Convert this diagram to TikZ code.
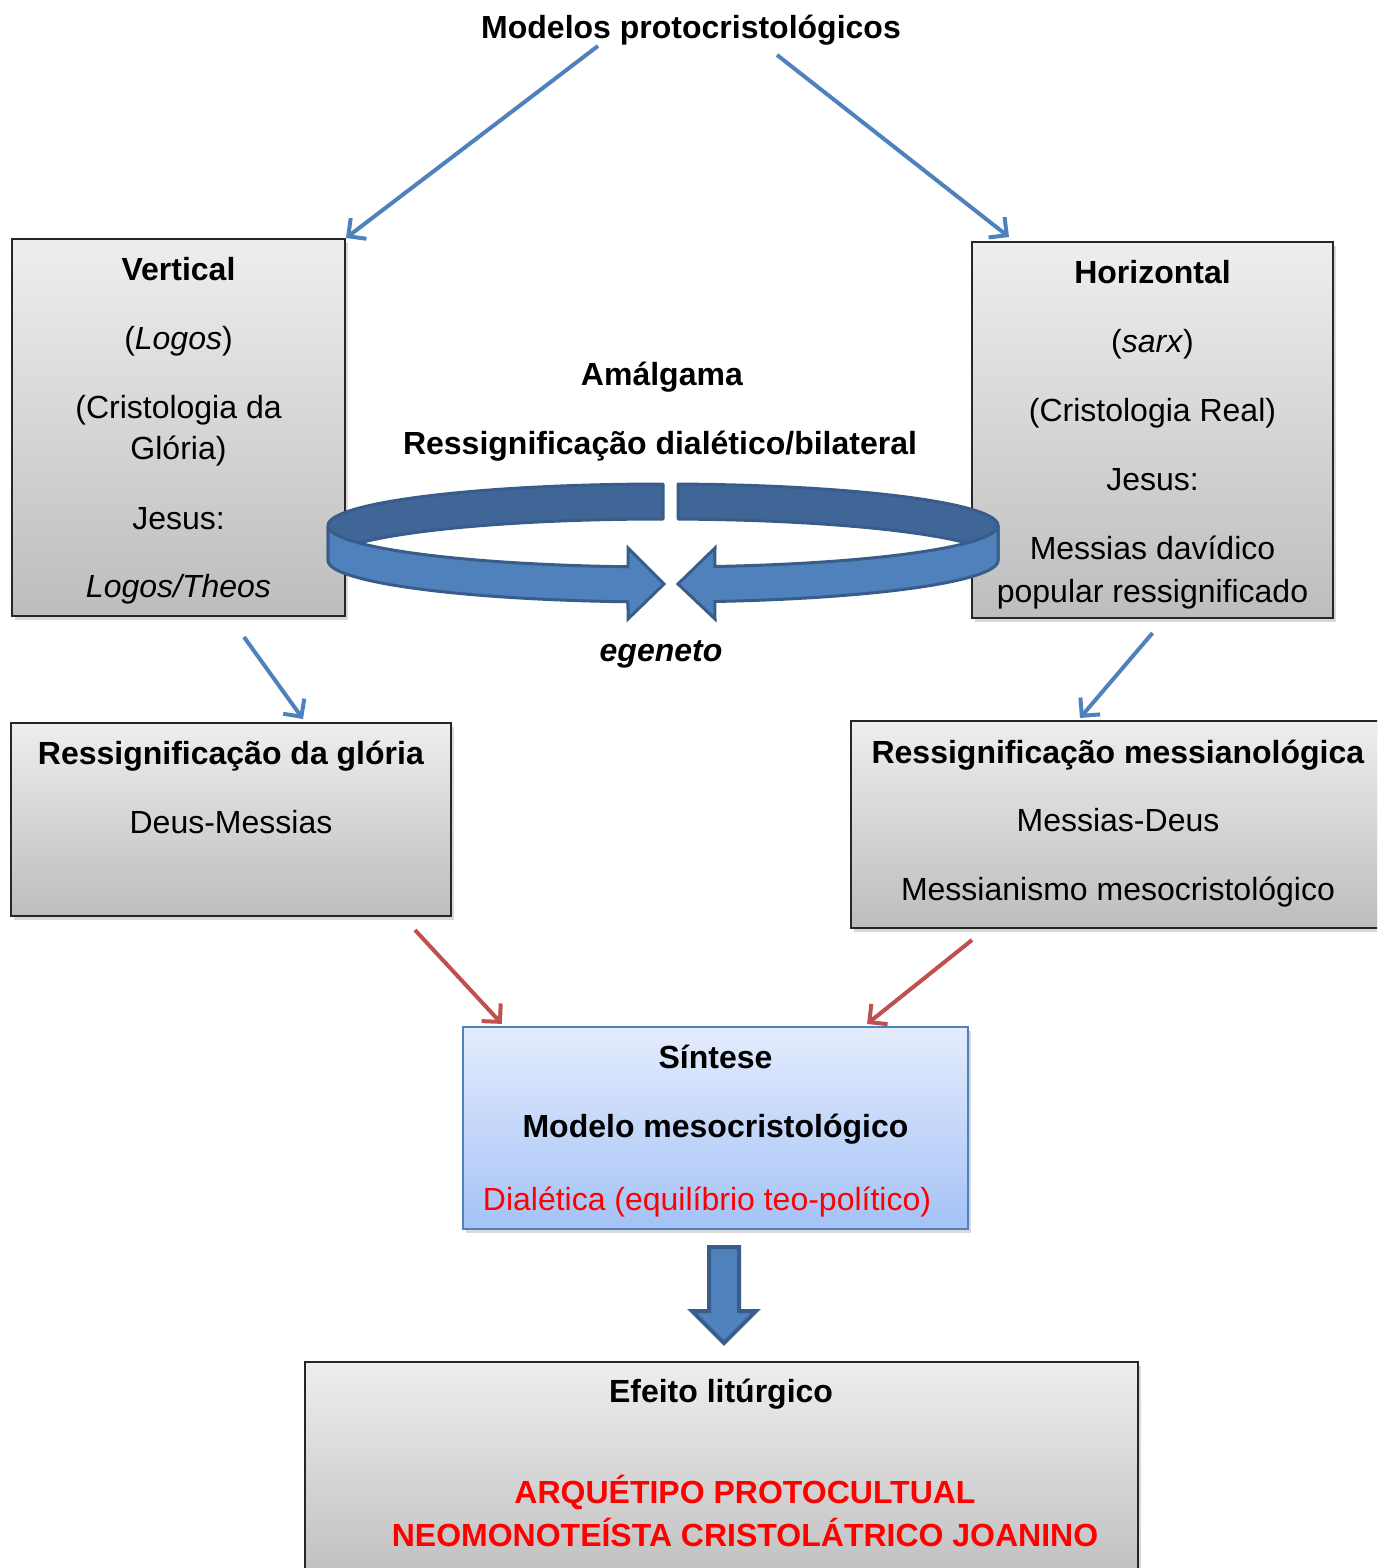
\documentclass[tikz,border=0pt]{standalone}
\usepackage{fontspec}
\setmainfont{Liberation Sans}
\usetikzlibrary{arrows.meta,shadows,calc}

\definecolor{accentblue}{HTML}{4F81BD}
\definecolor{accentred}{HTML}{C0504D}
\definecolor{ringedge}{HTML}{385D8A}
\definecolor{ringback}{HTML}{3F6697}
\definecolor{boxtop}{HTML}{EEEEEE}
\definecolor{boxbot}{HTML}{BDBDBD}
\definecolor{syntop}{HTML}{E4ECFD}
\definecolor{synbot}{HTML}{A4C2F6}
\definecolor{alertred}{HTML}{FF0000}

\begin{document}
\begin{tikzpicture}[x=1pt,y=-1pt,
  txt/.style={anchor=base,inner sep=0pt,font=\fontsize{32}{38}\selectfont},
  panel/.style={draw=black!85,line width=2pt,top color=boxtop,bottom color=boxbot,
    inner sep=0pt,drop shadow={shadow xshift=3pt,shadow yshift=-4pt,opacity=0.3}},
  synpanel/.style={draw=accentblue,line width=2.2pt,top color=syntop,bottom color=synbot,
    inner sep=0pt,drop shadow={shadow xshift=3pt,shadow yshift=-4pt,opacity=0.3}},
  bluelink/.style={draw=accentblue,line width=4pt,
    -{Straight Barb[length=13pt,width=26pt]}},
  redlink/.style={draw=accentred,line width=4pt,
    -{Straight Barb[length=13pt,width=26pt]}},
  ringbackstyle/.style={fill=ringback,draw=ringedge,line width=3pt,line join=round},
  ringfrontstyle/.style={fill=accentblue,draw=ringedge,line width=3pt,line join=miter},
  blockarrow/.style={fill=accentblue,draw=ringedge,line width=4pt,line join=miter}]

\useasboundingbox (0,0) rectangle (1377,1568);
\clip (0,0) rectangle (1377,1568);

% boxes
\node[panel,minimum width=333pt,minimum height=377pt] (vert) at (178.5,427.5) {};
\node[panel,minimum width=361pt,minimum height=376pt] (horz) at (1152.5,430) {};
\node[panel,minimum width=440pt,minimum height=193pt] (glory) at (231,819.5) {};
\node[panel,minimum width=534pt,minimum height=207pt] (messi) at (1118,824.5) {};
\node[synpanel,minimum width=505pt,minimum height=202pt] (sint) at (715.5,1128) {};
\node[panel,minimum width=833pt,minimum height=228pt] (effect) at (721.5,1476) {};

% title
\node[txt] (title) at (691,39) {\textbf{Modelos protocristológicos}};

% Vertical
\node[txt] (v1) at (178.5,280) {\textbf{Vertical}};
\node[txt] (v2) at (178.5,349) {(\textit{Logos})};
\node[txt] (v3) at (178.5,418) {(Cristologia da};
\node[txt] (v4) at (178.5,459) {Glória)};
\node[txt] (v5) at (178.5,529) {Jesus:};
\node[txt] (v6) at (178.5,597) {\textit{Logos/Theos}};

% Horizontal
\node[txt] (h1) at (1152.5,283) {\textbf{Horizontal}};
\node[txt] (h2) at (1152.5,352) {(\textit{sarx})};
\node[txt] (h3) at (1152.5,421) {(Cristologia Real)};
\node[txt] (h4) at (1152.5,490) {Jesus:};
\node[txt] (h5) at (1152.5,559) {Messias davídico};
\node[txt] (h6) at (1152.5,602) {popular ressignificado};

% centre labels
\node[txt] (amal) at (662,385) {\textbf{Amálgama}};
\node[txt] (ress) at (660,454) {\textbf{Ressignificação dialético/bilateral}};
\node[txt] (egen) at (661,661) {\textbf{\textit{egeneto}}};

% second row
\node[txt] (g1) at (231,764) {\textbf{Ressignificação da glória}};
\node[txt] (g2) at (231,833) {Deus-Messias};
\node[txt] (m1) at (1118,763) {\textbf{Ressignificação messianológica}};
\node[txt] (m2) at (1118,831) {Messias-Deus};
\node[txt] (m3) at (1118,900) {Messianismo mesocristológico};

% synthesis
\node[txt] (s1) at (715.5,1068) {\textbf{Síntese}};
\node[txt] (s2) at (715.5,1137) {\textbf{Modelo mesocristológico}};
\node[txt,text=alertred] (s3) at (707,1210) {Dialética (equilíbrio teo-político)};

% liturgical effect
\node[txt] (e1) at (721,1402) {\textbf{Efeito litúrgico}};
\node[txt,text=alertred] (e2) at (745,1503) {\textbf{ARQUÉTIPO PROTOCULTUAL}};
\node[txt,text=alertred] (e3) at (745,1546) {\textbf{NEOMONOTEÍSTA CRISTOLÁTRICO JOANINO}};

% connectors
\draw[bluelink] ([xshift=-93pt]title.south) -- (vert.north east);
\draw[bluelink] ([xshift=86pt,yshift=-9pt]title.south) -- ([xshift=38pt,yshift=4pt]horz.north west);
\draw[bluelink] ([xshift=65.5pt,yshift=-20pt]vert.south) -- ([xshift=72pt,yshift=3pt]glory.north);
\draw[bluelink] ([yshift=-14pt]horz.south) -- ([xshift=-38pt,yshift=2pt]messi.north);
\draw[redlink] ([xshift=184pt,yshift=-13pt]glory.south) -- ([xshift=40pt,yshift=2pt]sint.north west);
\draw[redlink] ([xshift=-146pt,yshift=-11pt]messi.south) -- ([xshift=-102pt,yshift=2pt]sint.north east);

% block arrow below the synthesis
\coordinate (bstart) at ($(sint.south)+(8.5,17)$);
\draw[blockarrow] ($(bstart)+(-15,0)$) -- ($(bstart)+(15,0)$) -- ($(bstart)+(15,64)$)
  -- ($(bstart)+(32,64)$) -- ($(bstart)+(0,96)$) -- ($(bstart)+(-32,64)$)
  -- ($(bstart)+(-15,64)$) -- cycle;

% ring of two opposed arrows
\draw[ringbackstyle]
  plot[domain=90:180,samples=60] ({663+335*cos(\x)},{525.5-41.5*sin(\x)})
  -- plot[domain=180:90,samples=60] ({663+335*cos(\x)},{560.5-41.5*sin(\x)}) -- cycle;
\draw[ringbackstyle]
  plot[domain=87.4:0,samples=60] ({663+335*cos(\x)},{525.5-41.5*sin(\x)})
  -- plot[domain=0:87.4,samples=60] ({663+335*cos(\x)},{560.5-41.5*sin(\x)}) -- cycle;
\draw[ringfrontstyle]
  plot[domain=180:264,samples=60] ({663+335*cos(\x)},{525.5-41.5*sin(\x)})
  -- (628,548) -- (664,584) -- (628,619)
  -- plot[domain=264:180,samples=60] ({663+335*cos(\x)},{560.5-41.5*sin(\x)}) -- cycle;
\draw[ringfrontstyle]
  plot[domain=360:278.9,samples=60] ({663+335*cos(\x)},{525.5-41.5*sin(\x)})
  -- (715,548) -- (678,584) -- (715,619)
  -- plot[domain=278.9:360,samples=60] ({663+335*cos(\x)},{560.5-41.5*sin(\x)}) -- cycle;

\end{tikzpicture}
\end{document}
